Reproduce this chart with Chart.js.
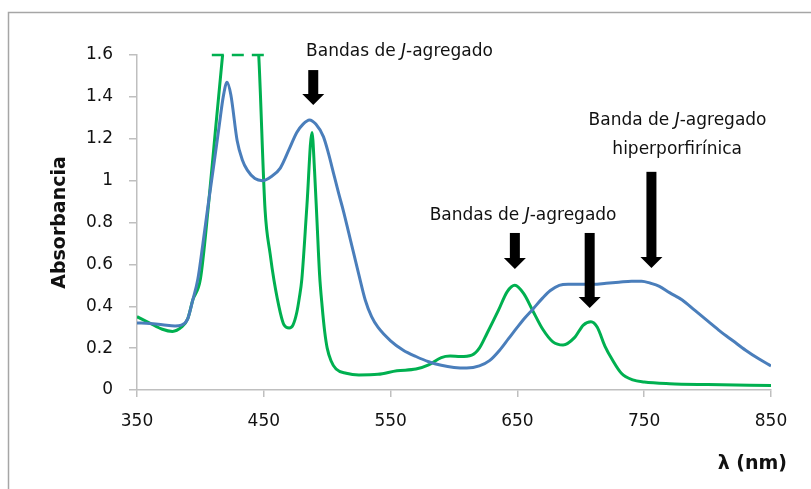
<!DOCTYPE html>
<html>
<head>
<meta charset="utf-8">
<script src="https://cdn.jsdelivr.net/npm/chart.js@4"></script>
<style>
  html, body { margin: 0; padding: 0; background: #fff; }
</style>
</head>
<body>
<canvas id="myChart" width="811" height="489"></canvas>
<script>
// wavelength (nm) and absorbance
var blueNm = [350, 360, 370, 380, 385, 390, 394, 398, 402, 406, 410, 415, 418, 421, 424, 429, 433, 437, 443, 449,
              456, 463, 470, 476, 481, 486, 491, 497, 501, 505, 509, 513, 517, 521, 525, 530, 535, 540, 550, 560,
              570, 580, 590, 600, 610, 620, 628, 636, 643, 650, 656, 662, 670, 676, 683, 690, 700, 710, 720, 730,
              740, 748, 755, 762, 770, 780, 790, 800, 810, 820, 830, 840, 850];
var blueAbs = [0.320, 0.318, 0.312, 0.306, 0.310, 0.340, 0.430, 0.530, 0.700, 0.880, 1.050, 1.270, 1.400, 1.470, 1.410, 1.190, 1.100, 1.050, 1.010, 1.000,
               1.020, 1.060, 1.150, 1.230, 1.270, 1.290, 1.270, 1.210, 1.130, 1.035, 0.940, 0.850, 0.750, 0.650, 0.550, 0.430, 0.350, 0.300, 0.235, 0.190,
               0.160, 0.135, 0.118, 0.108, 0.105, 0.115, 0.140, 0.190, 0.245, 0.300, 0.345, 0.385, 0.440, 0.475, 0.500, 0.505, 0.505, 0.505, 0.510, 0.515,
               0.520, 0.520, 0.510, 0.495, 0.465, 0.430, 0.380, 0.330, 0.280, 0.235, 0.190, 0.150, 0.115];

var greenNm = [350, 360, 370, 378, 385, 390, 394, 400, 406, 412, 417.5, 425, 432, 440, 446, 451, 455, 458, 463, 466,
               470, 473, 476, 478, 480, 484, 488, 490, 492, 494, 496, 498, 500, 503, 507, 515, 525, 540, 555, 570,
               580, 590, 597, 605, 614, 620, 626, 635, 642, 648, 655, 662, 670, 678, 686, 695, 702, 708, 713, 719,
               725, 732, 741, 750, 770, 800, 850];
var greenAbs = [0.350, 0.320, 0.290, 0.280, 0.300, 0.340, 0.430, 0.530, 0.860, 1.250, 1.600, 2.100, 2.300, 2.100, 1.600, 0.860, 0.650, 0.525, 0.370, 0.310,
                0.296, 0.310, 0.370, 0.440, 0.530, 0.880, 1.230, 1.050, 0.800, 0.550, 0.400, 0.280, 0.200, 0.140, 0.100, 0.080, 0.072, 0.075, 0.092, 0.100,
                0.120, 0.155, 0.162, 0.160, 0.167, 0.200, 0.270, 0.380, 0.470, 0.500, 0.460, 0.380, 0.290, 0.230, 0.215, 0.250, 0.310, 0.326, 0.300, 0.210,
                0.143, 0.080, 0.048, 0.038, 0.030, 0.026, 0.022];

// dashed mark where the green band leaves the top of the axis
var clipNm = [409, 454];
var clipAbs = [1.6, 1.6];

var xTicks = [350, 450, 550, 650, 750, 850];
var yTicks = [0, 0.2, 0.4, 0.6, 0.8, 1, 1.2, 1.4, 1.6];
var yTickLabels = ['0', '0.2', '0.4', '0.6', '0.8', '1', '1.2', '1.4', '1.6'];

function pts(xs, ys) {
    return xs.map(function (x, i) { return {x: x, y: ys[i]}; });
}

var FONT = '"DejaVu Sans", sans-serif';

// arrows: wavelength, top and tip in absorbance units
var arrows = [
    {nm: 489, top: 1.528, tip: 1.361},
    {nm: 648, top: 0.750, tip: 0.578},
    {nm: 707, top: 0.750, tip: 0.392},
    {nm: 755.7, top: 1.042, tip: 0.583}
];
var notes = [
    {nm: 557, abs: 1.595, parts: [['Bandas de ', false], ['J', true], ['-agregado', false]]},
    {nm: 654.5, abs: 0.812, parts: [['Bandas de ', false], ['J', true], ['-agregado', false]]},
    {nm: 776.3, abs: 1.268, parts: [['Banda de ', false], ['J', true], ['-agregado', false]]},
    {nm: 776, abs: 1.127, parts: [['hiperporfirínica', false]]}
];

function drawParts(ctx, parts, cx, baseY, size) {
    var widths = parts.map(function (p) {
        ctx.font = (p[1] ? 'italic ' : '') + size + 'px ' + FONT;
        return ctx.measureText(p[0]).width;
    });
    var total = widths.reduce(function (a, b) { return a + b; }, 0);
    var x = cx - total / 2;
    parts.forEach(function (p, i) {
        ctx.font = (p[1] ? 'italic ' : '') + size + 'px ' + FONT;
        ctx.fillText(p[0], x, baseY);
        x += widths[i];
    });
}

var decor = {
    id: 'decor',
    beforeDraw: function (chart) {
        var ctx = chart.ctx;
        ctx.save();
        ctx.strokeStyle = '#A6A6A6';
        ctx.lineWidth = 1.5;
        ctx.beginPath();
        ctx.moveTo(8.5, 489);
        ctx.lineTo(8.5, 12.5);
        ctx.lineTo(811, 12.5);
        ctx.stroke();
        ctx.restore();
    },
    afterDatasetsDraw: function (chart) {
        var ctx = chart.ctx, xs = chart.scales.x, ys = chart.scales.y;
        ctx.save();
        ctx.fillStyle = '#000';
        arrows.forEach(function (a) {
            var x = xs.getPixelForValue(a.nm);
            var top = ys.getPixelForValue(a.top);
            var tip = ys.getPixelForValue(a.tip);
            var head = 11;
            ctx.fillRect(x - 5, top, 10, tip - head - top + 1);
            ctx.beginPath();
            ctx.moveTo(x - 11, tip - head);
            ctx.lineTo(x + 11, tip - head);
            ctx.lineTo(x, tip);
            ctx.closePath();
            ctx.fill();
        });
        ctx.fillStyle = '#111';
        ctx.textAlign = 'left';
        ctx.textBaseline = 'alphabetic';
        notes.forEach(function (n) {
            drawParts(ctx, n.parts, xs.getPixelForValue(n.nm), ys.getPixelForValue(n.abs), 17);
        });
        // x axis title
        ctx.font = 'bold 19px ' + FONT;
        ctx.textAlign = 'right';
        ctx.fillText('λ (nm)', chart.chartArea.right + 16, 469);
        ctx.restore();
    }
};

var ctx = document.getElementById('myChart').getContext('2d');
var chart = new Chart(ctx, {
    type: 'line',
    data: {
        datasets: [{
            label: 'azul',
            data: pts(blueNm, blueAbs),
            borderColor: '#4A7EBB',
            borderWidth: 3,
            pointRadius: 0,
            cubicInterpolationMode: 'monotone'
        }, {
            label: 'verde',
            data: pts(greenNm, greenAbs),
            borderColor: '#00B050',
            borderWidth: 3,
            pointRadius: 0,
            cubicInterpolationMode: 'monotone'
        }, {
            label: 'corte',
            data: pts(clipNm, clipAbs),
            borderColor: '#00B050',
            borderWidth: 2.5,
            borderDash: [12, 8],
            pointRadius: 0,
            clip: false
        }]
    },
    options: {
        responsive: false,
        animation: false,
        devicePixelRatio: 1,
        layout: {padding: {top: 55, right: 40, left: 0, bottom: 0}},
        plugins: {legend: {display: false}, tooltip: {enabled: false}},
        scales: {
            x: {
                type: 'linear',
                min: 350,
                max: 850,
                afterBuildTicks: function (s) { s.ticks = xTicks.map(function (v) { return {value: v}; }); },
                afterFit: function (s) { s.height = 99; },
                ticks: {color: '#111', font: {family: FONT, size: 17}, padding: 14, maxRotation: 0},
                grid: {display: true, drawOnChartArea: false, drawTicks: true, tickLength: 7, color: '#BFBFBF', lineWidth: 1.5},
                border: {display: true, color: '#BFBFBF', width: 1.5}
            },
            y: {
                min: 0,
                max: 1.6,
                afterBuildTicks: function (s) { s.ticks = yTicks.map(function (v) { return {value: v}; }); },
                afterFit: function (s) { s.width = 137; },
                ticks: {
                    color: '#111',
                    font: {family: FONT, size: 17},
                    padding: 16,
                    callback: function (v, i) { return yTickLabels[i]; }
                },
                grid: {display: true, drawOnChartArea: false, drawTicks: true, tickLength: 8, color: '#BFBFBF', lineWidth: 1.5},
                border: {display: true, color: '#BFBFBF', width: 1.5},
                title: {
                    display: true,
                    text: 'Absorbancia',
                    color: '#111',
                    font: {family: FONT, size: 19, weight: 'bold'},
                    padding: {top: 49, bottom: 0}
                }
            }
        }
    },
    plugins: [decor]
});
</script>
</body>
</html>
